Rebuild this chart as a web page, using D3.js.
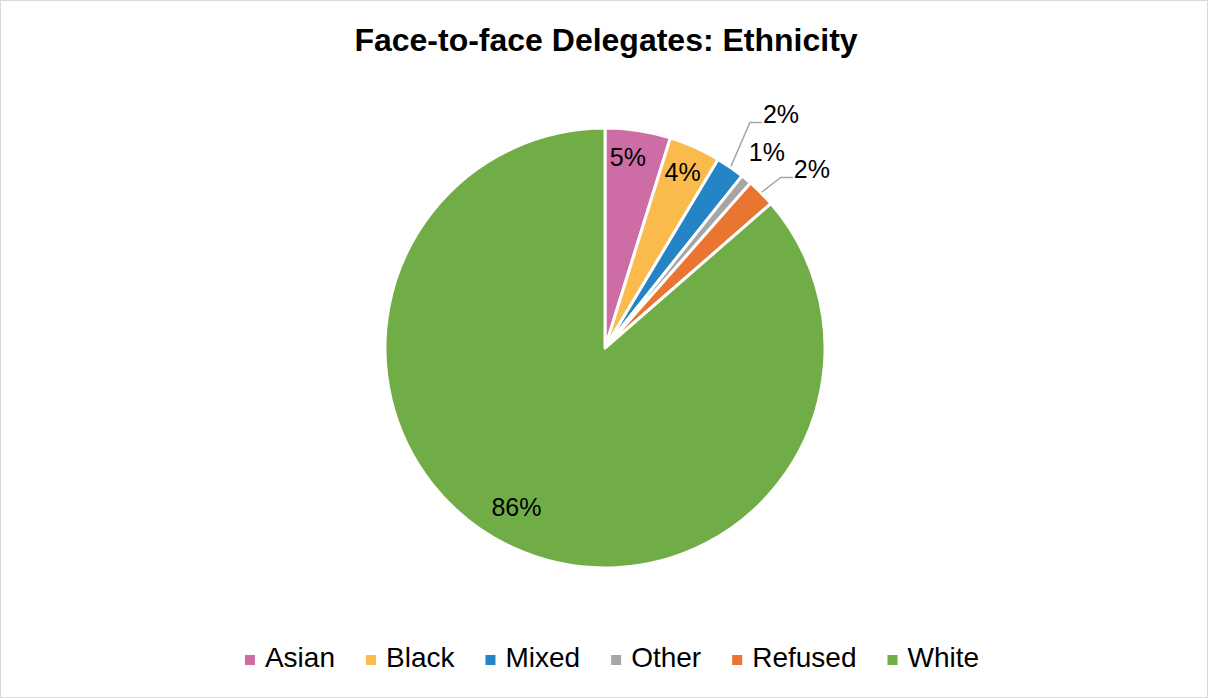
<!DOCTYPE html>
<html lang="en">
  <head>
    <style>
      body { margin: 0; background: #fff; }
      svg { font-family: "Liberation Sans", Arial, sans-serif; }
      .leaders polyline { fill: none; stroke: #a6a6a6; stroke-width: 1.5; }
    </style>
  </head>
  <body>
    <svg id="container" width="1208" height="698">
      <rect x="0.5" y="0.5" width="1207" height="697" fill="#fff" stroke="#d9d9d9"></rect>
      <g id="body"></g>
    </svg>
  </body>
  <script src="https://d3js.org/d3.v7.min.js"></script>
  <script>
let categories = ["Asian", "Black", "Mixed", "Other", "Refused", "White"]
let values = [4.8, 3.8, 2.1, 0.8, 2.1, 86.4]
let colors = ["#ce6ca5", "#fbbb4c", "#2484c6", "#a6a6a6", "#ea7530", "#70ad47"]

// where each data label goes: inside the slice, outside with a leader, or outside bare
let labelMode = ["inside", "inside", "leader", "outside", "leader", "inside"]
let labelRadius = [190, 190, 268, 252, 245, 184]
let labelTurn = [-0.03, 0, -0.035, 0, 0.012, 0.075]

let svg = d3.select("#container")
let body = d3.select("#body")

let cx = 605
let cy = 348
let radius = 220

svg.append("text")
    .attr("x", 606)
    .attr("y", 51)
    .attr("text-anchor", "middle")
    .attr("font-size", 32)
    .attr("font-weight", "bold")
    .text("Face-to-face Delegates: Ethnicity")

let total = d3.sum(values)
let data = categories.map((c, i) => ({ name: c, value: values[i], i: i }))

let pie = d3.pie().sort(null).value((d) => d.value)
let arc = d3.arc().innerRadius(0).outerRadius(radius)
let arcs = pie(data)

let chart = body.append("g").attr("transform", `translate(${cx},${cy})`)

chart.append("g")
    .attr("class", "slices")
    .selectAll("path")
    .data(arcs)
    .enter()
    .append("path")
        .attr("d", arc)
        .attr("fill", (d) => colors[d.data.i])
        .attr("stroke", "#fff")
        .attr("stroke-width", 3)
        .attr("stroke-linejoin", "round")

function polar(r, a) {
    return [r * Math.sin(a), -r * Math.cos(a)]
}

let pct = (d) => Math.round(d.data.value / total * 100) + "%"

let leaders = chart.append("g").attr("class", "leaders")
let labels = chart.append("g").attr("class", "labels")
    .attr("font-size", 25)
    .attr("fill", "#000")

arcs.forEach((d) => {
    let mid = (d.startAngle + d.endAngle) / 2
    let mode = labelMode[d.data.i]
    let r = labelRadius[d.data.i]
    let turn = labelTurn[d.data.i]
    if (mode == "leader") {
        let p0 = polar(radius + 1, mid)
        let p1 = polar(r, mid + turn)
        let p2 = [p1[0] + 12, p1[1]]
        leaders.append("polyline")
            .attr("points", [p0, p1, p2].map((p) => p.join(",")).join(" "))
        labels.append("text")
            .attr("x", p2[0] + 1)
            .attr("y", p2[1] - 6)
            .attr("dominant-baseline", "middle")
            .text(pct(d))
    } else {
        let p = polar(r, mid + turn)
        labels.append("text")
            .attr("x", p[0])
            .attr("y", p[1])
            .attr("text-anchor", "middle")
            .attr("dominant-baseline", "middle")
            .text(pct(d))
    }
})

// legend, centred under the pie
let legend = body.append("g").attr("class", "legend").attr("font-size", 28)
let items = legend.selectAll("g")
    .data(categories)
    .enter()
    .append("g")

items.append("rect")
    .attr("width", 10)
    .attr("height", 10)
    .attr("y", -5)
    .attr("fill", (d, i) => colors[i])

items.append("text")
    .attr("x", 20)
    .attr("dominant-baseline", "middle")
    .text((d) => d)

let x = 0
items.each(function () {
    let w = d3.select(this).select("text").node().getComputedTextLength()
    d3.select(this).attr("transform", `translate(${x},0)`)
    x += 20 + w + 31
})
let legendWidth = x - 31
legend.attr("transform", `translate(${612 - legendWidth / 2},660)`)
  </script>
</html>
